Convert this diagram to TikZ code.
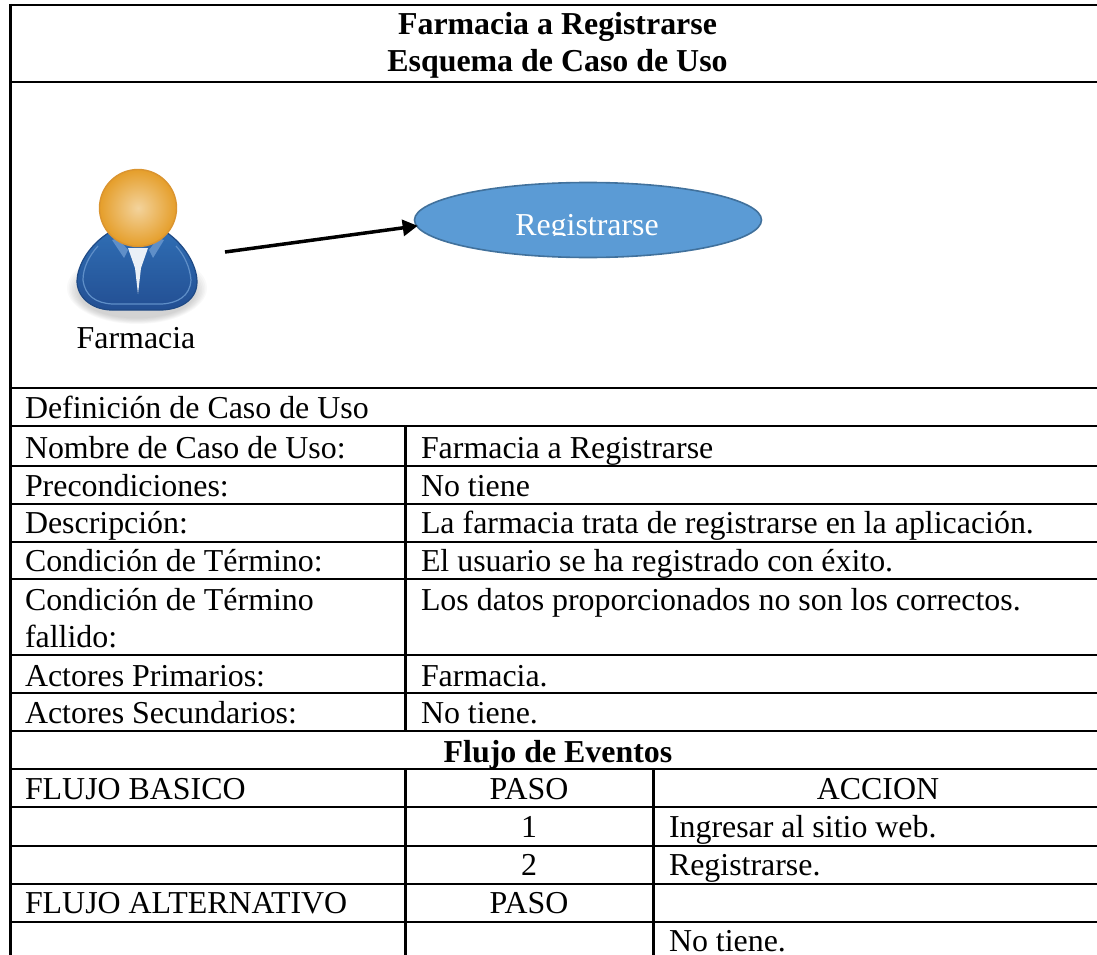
\documentclass[tikz,border=0pt]{standalone}
\usepackage{fontspec}
\setmainfont{Liberation Serif}
\usetikzlibrary{shapes.geometric,arrows.meta}
\definecolor{ovalfill}{HTML}{5B9BD5}
\definecolor{ovaledge}{HTML}{41719C}
\definecolor{bodytop}{HTML}{2F6DB3}
\definecolor{bodybot}{HTML}{234F93}
\definecolor{bodyline}{HTML}{5F8FC8}
\definecolor{bodyedge}{HTML}{1F4A85}
\definecolor{headin}{HTML}{F3D39C}
\definecolor{headout}{HTML}{E59E2A}
\definecolor{headedge}{HTML}{DA9430}
\tikzset{
  x=1pt,y=-1pt,
  rule/.style={black,line width=2.2pt},
  celltext/.style={inner sep=0pt,outer sep=0pt,font=\fontsize{31.9pt}{36pt}\selectfont,text=black},
  lefttext/.style={celltext,anchor=base west},
  midtext/.style={celltext,anchor=base},
  boldtext/.style={midtext,font=\fontsize{31.9pt}{36pt}\selectfont\bfseries},
  usecase/.style={ellipse,draw=ovaledge,line width=1.6pt,fill=ovalfill,minimum width=347pt,minimum height=75pt,inner sep=0pt,outer sep=0pt},
  link/.style={black,line width=3.5pt,-{Triangle[length=15pt,width=16pt]},shorten >=-1pt}
}
\begin{document}
\begin{tikzpicture}
\useasboundingbox (0,0) rectangle (1097,955);
% table rules
\foreach \y in {5,82,388,426,466,504,542,579,655,693,731,769,807,846,884,922}
  \draw[rule] (10,\y) -- (1097,\y);
\draw[rule] (10.5,4) -- (10.5,955);
\draw[rule] (405.5,426) -- (405.5,731);
\draw[rule] (405.5,769) -- (405.5,955);
\draw[rule] (653.5,769) -- (653.5,955);
% titles
\node[boldtext] (t1) at (557.5,35) {Farmacia a Registrarse};
\node[boldtext] (t2) at (557.5,72) {Esquema de Caso de Uso};
% actor
\foreach \k in {0,...,7}
  \fill[black,opacity=.025] (137,{288+\k*0.6}) ellipse ({70-\k*1.6} and {36-\k*1.4});
\path[top color=bodytop,bottom color=bodybot,draw=bodyedge,line width=1.2pt]
  (110,232) .. controls (90,244) and (77,265) .. (77,282)
  .. controls (78,300) and (95,310) .. (112,310)
  -- (160,310)
  .. controls (180,310) and (197,300) .. (197,282)
  .. controls (197,265) and (184,244) .. (166,232)
  -- cycle;
\draw[bodyline,line width=1.2pt]
  (98,246) .. controls (89,256) and (83,268) .. (83,280)
  .. controls (85,296) and (96,303) .. (112,304)
  -- (162,304) .. controls (178,303) and (190,296) .. (191,280)
  .. controls (190,268) and (185,256) .. (176,246);
\fill[bodyline] (112,240) -- (124,258) -- (128,250) -- (118,238) -- cycle;
\fill[bodyline] (164,240) -- (153,258) -- (149,250) -- (158,238) -- cycle;
\fill[white!90!bodytop] (128,248) -- (148,248) -- (141,268) -- (138,294) -- (135,268) -- cycle;
\shade[inner color=headin,outer color=headout,draw=headedge,line width=1.4pt] (138,208) circle (38.5);
\node[midtext] (actor) at (136,348) {Farmacia};
% use case
\node[usecase] (reg) at (588,220) {};
\begin{scope}
  \clip (420,190) rectangle (760,235.5);
  \node[midtext,text=white] (reglabel) at (587,235) {Registrarse};
\end{scope}
\coordinate (linkstart) at (225,252);
\draw[link] (linkstart) -- (reg.182);
% definition
\node[lefttext] (def) at (25,418) {Definición de Caso de Uso};
\node[lefttext] (a1) at (25,458) {Nombre de Caso de Uso:};
\node[lefttext] (b1) at (421,458) {Farmacia a Registrarse};
\node[lefttext] (a2) at (25,496) {Precondiciones:};
\node[lefttext] (b2) at (421,496) {No tiene};
\node[lefttext] (a3) at (25,533) {Descripción:};
\node[lefttext] (b3) at (421,533) {La farmacia trata de registrarse en la aplicación.};
\node[lefttext] (a4) at (25,571) {Condición de Término:};
\node[lefttext] (b4) at (421,571) {El usuario se ha registrado con éxito.};
\node[lefttext] (a5) at (25,610) {Condición de Término};
\node[lefttext] (a5b) at (25,647) {fallido:};
\node[lefttext] (b5) at (421,610) {Los datos proporcionados no son los correctos.};
\node[lefttext] (a6) at (25,686) {Actores Primarios:};
\node[lefttext] (b6) at (421,686) {Farmacia.};
\node[lefttext] (a7) at (25,723) {Actores Secundarios:};
\node[lefttext] (b7) at (421,723) {No tiene.};
% flow
\node[boldtext] (flow) at (558,762) {Flujo de Eventos};
\node[lefttext] (f1) at (25,799) {FLUJO BASICO};
\node[midtext] (p1) at (529,799) {PASO};
\node[midtext] (ac) at (878,799) {ACCION};
\node[midtext] (n1) at (529,837) {1};
\node[lefttext] (s1) at (669,837) {Ingresar al sitio web.};
\node[midtext] (n2) at (529,875) {2};
\node[lefttext] (s2) at (669,875) {Registrarse.};
\node[lefttext] (f2) at (25,913) {FLUJO ALTERNATIVO};
\node[midtext] (p2) at (529,913) {PASO};
\node[lefttext] (s3) at (669,951) {No tiene.};
\end{tikzpicture}
\end{document}
